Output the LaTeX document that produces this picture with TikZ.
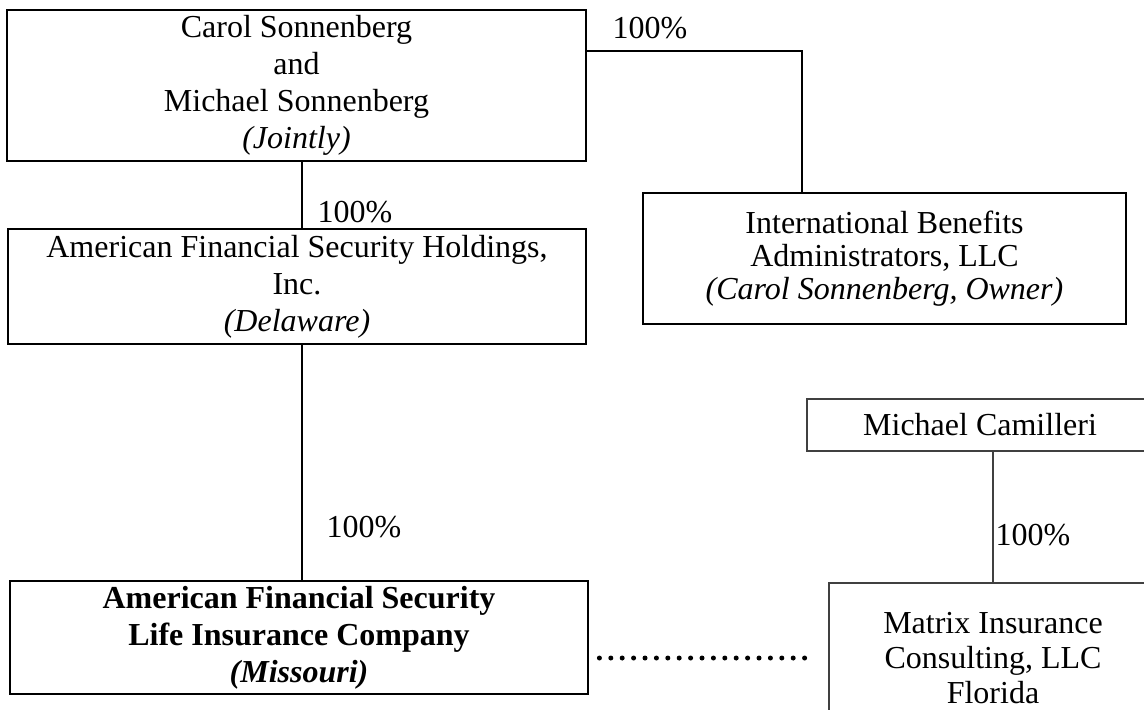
\documentclass[tikz,border=0pt]{standalone}
\usepackage{fontspec}
\setmainfont{Liberation Serif}

\tikzset{
	orgbox/.style={draw, line width=1.4pt, align=center, inner sep=0pt,
		font=\fontsize{16}{18.5}\selectfont},
	thinbox/.style={orgbox, line width=0.9pt, draw=black!75},
	pct/.style={inner sep=0pt, font=\fontsize{16}{18.5}\selectfont}
}

\begin{document}
\begin{tikzpicture}
	\begin{scope}[x=0.5pt,y=-0.5pt]
	\useasboundingbox (0,0) rectangle (1144,709);

	% boxes
	\node[orgbox, minimum width=289.5pt, minimum height=75.5pt] (owners) at (296.5,85.5)
		{Carol Sonnenberg\\and\\Michael Sonnenberg\\\textit{(Jointly)}};
	\node[orgbox, minimum width=289pt, minimum height=57.5pt] (holdings) at (297,286.5)
		{American Financial Security Holdings,\\Inc.\\\textit{(Delaware)}};
	\node[orgbox, minimum width=289pt, minimum height=56.5pt] (afsl) at (299,637.5)
		{\textbf{American Financial Security}\\\textbf{Life Insurance Company}\\\textbf{\textit{(Missouri)}}};
	\node[orgbox, minimum width=241.5pt, minimum height=65.5pt,
		font=\fontsize{16}{16.5}\selectfont] (iba) at (884.5,258.5)
		{International Benefits\\Administrators, LLC\\\textit{(Carol Sonnenberg, Owner)}};
	\node[thinbox, minimum width=173pt, minimum height=26pt] (camilleri) at (980,425)
		{Michael Camilleri};
	\node[thinbox, minimum width=164pt, minimum height=75pt,
		font=\fontsize{16}{17.5}\selectfont] (matrix) at (993,658)
		{Matrix Insurance\\Consulting, LLC\\Florida};

	% ownership lines
	\coordinate (spine) at (302,0);
	\coordinate (ibaturn) at (802,51);
	\draw[line width=1.3pt] (owners.south -| spine) -- (holdings.north -| spine);
	\draw[line width=1.3pt] (holdings.south -| spine) -- (afsl.north -| spine);
	\draw[line width=1pt] (owners.east |- ibaturn) -| (iba.north -| ibaturn);
	\draw[line width=0.9pt, black!75] (matrix.north |- camilleri.south) -- (matrix.north);
	\draw[line width=2.5pt, line cap=round, dash pattern=on 0pt off 5.7pt]
		([xshift=5pt]afsl.east |- matrix.west) -- ([xshift=-7pt]matrix.west);

	% percentages
	\node[pct] (pctholdings) at (355,212) {100\%};
	\node[pct] (pctafsl) at (364,527) {100\%};
	\node[pct] (pctiba) at (650,28) {100\%};
	\node[pct] (pctmatrix) at (1033,535) {100\%};
	\end{scope}
\end{tikzpicture}
\end{document}
